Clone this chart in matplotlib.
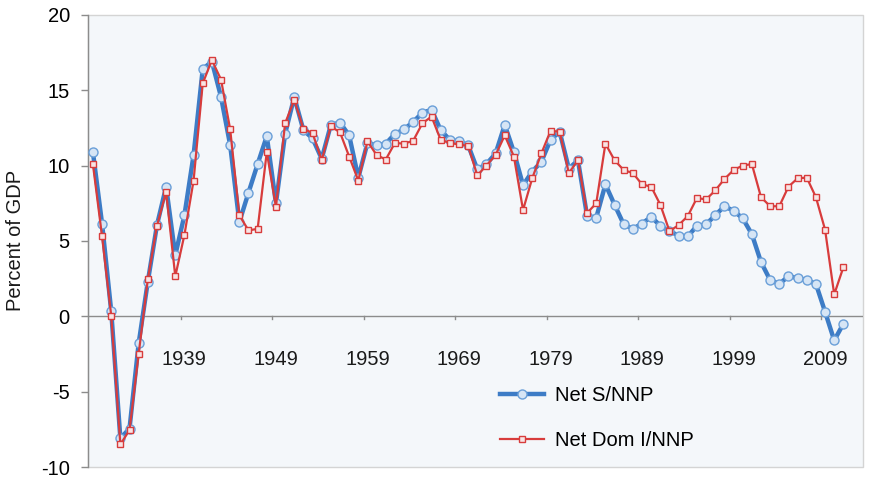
import matplotlib.pyplot as plt
import numpy as np
from matplotlib.patches import Rectangle

plt.rcParams['font.family'] = ['Liberation Sans', 'DejaVu Sans']

years = np.arange(1929, 2012)

# Net saving as a share of net national product
net_saving = [
    10.9, 6.15, 0.35, -8.1, -7.45, -1.8, 2.3, 6.05, 8.6, 4.05,       # 1929-1938
    6.7, 10.7, 16.4, 16.9, 14.55, 11.35, 6.25, 8.2, 10.1, 11.95,     # 1939-1948
    7.5, 12.1, 14.55, 12.35, 11.8, 10.45, 12.7, 12.85, 12.0, 9.2,    # 1949-1958
    11.5, 11.35, 11.45, 12.1, 12.4, 12.9, 13.5, 13.7, 12.35, 11.7,   # 1959-1968
    11.6, 11.35, 9.75, 10.1, 10.8, 12.7, 10.9, 8.7, 9.6, 10.25,      # 1969-1978
    11.7, 12.25, 9.8, 10.35, 6.65, 6.55, 8.75, 7.4, 6.1, 5.8,        # 1979-1988
    6.15, 6.6, 6.0, 5.65, 5.35, 5.3, 6.0, 6.1, 6.7, 7.3,             # 1989-1998
    7.0, 6.5, 5.45, 3.6, 2.4, 2.15, 2.65, 2.55, 2.4, 2.15,           # 1999-2008
    0.3, -1.6, -0.5,                                                 # 2009-2011
]

# Net domestic investment as a share of net national product
net_dom_inv = [
    10.1, 5.3, 0.05, -8.5, -7.55, -2.5, 2.45, 6.0, 8.25, 2.65,       # 1929-1938
    5.4, 9.0, 15.45, 17.0, 15.7, 12.4, 6.7, 5.7, 5.8, 10.9,          # 1939-1948
    7.25, 12.8, 14.35, 12.45, 12.15, 10.35, 12.6, 12.2, 10.6, 9.0,   # 1949-1958
    11.6, 10.7, 10.4, 11.5, 11.45, 11.65, 12.8, 13.25, 11.7, 11.5,   # 1959-1968
    11.4, 11.3, 9.35, 10.0, 10.7, 12.0, 10.6, 7.05, 9.15, 10.8,      # 1969-1978
    12.3, 12.25, 9.5, 10.35, 6.85, 7.5, 11.45, 10.35, 9.7, 9.5,      # 1979-1988
    8.75, 8.6, 7.4, 5.65, 6.05, 6.65, 7.85, 7.75, 8.35, 9.1,         # 1989-1998
    9.7, 10.0, 10.1, 7.9, 7.3, 7.3, 8.6, 9.15, 9.2, 7.9,             # 1999-2008
    5.75, 1.45, 3.25,                                                # 2009-2011
]

label_years = list(range(1939, 2010, 10))
y_ticks = [-10, -5, 0, 5, 10, 15, 20]

blue = '#3d7cc6'
red = '#d83c3c'

fig = plt.figure(figsize=(8.7, 4.78), dpi=100)
ax = fig.add_axes([0.101, 0.023, 0.891, 0.946])
ax.set_facecolor('#f4f7fa')

ax.plot(years, net_saving, color=blue, lw=3.2, marker='o', ms=6.5,
        mfc='#d6e5f5', mec='#6a9fd8', mew=1.0, label='Net S/NNP', zorder=3)
ax.plot(years, net_dom_inv, color=red, lw=1.6, marker='s', ms=4.5,
        mfc='#f8e4e4', mec=red, mew=1.0, label='Net Dom I/NNP', zorder=4)

ax.set_xlim(1928.45, 2013.15)
ax.set_ylim(-10, 20)

# y axis on the left, plot border on the other sides
for side in ['top', 'right', 'bottom']:
    ax.spines[side].set_visible(False)
ax.spines['left'].set_color('#8c8c8c')
ax.spines['left'].set_linewidth(1.0)
ax.add_patch(Rectangle((0, 0), 1, 1, transform=ax.transAxes, fill=False,
                       edgecolor='#d4d4d4', lw=1.0, zorder=0.5, clip_on=False))

# x axis runs along zero
ax.axhline(0, color='#8c8c8c', lw=1.0, zorder=2)
ax.set_yticks(y_ticks)
ax.set_yticklabels([str(v) for v in y_ticks])
ax.tick_params(axis='y', direction='out', length=5, width=1.0,
               color='#8c8c8c', labelsize=14.5, pad=8)

ax.set_xticks([])
for yr in label_years:
    ax.plot([yr - 0.4, yr - 0.4], [0, -0.2], color='#8c8c8c', lw=1.0, zorder=2)
    ax.text(yr, -2.9, str(yr), ha='center', va='center', fontsize=14.5,
            color='#1a1a1a')

fig.text(0.018, 0.496, 'Percent of GDP', rotation=90, ha='center',
         va='center', fontsize=14.5, color='#1a1a1a')

ax.legend(loc='upper left', bbox_to_anchor=(0.5747, 0.192),
          bbox_transform=fig.transFigure, frameon=False, fontsize=14.5,
          handlelength=2.2, handletextpad=0.55, labelspacing=1.3,
          borderpad=0, borderaxespad=0)

fig.savefig('out.png', dpi=100)
